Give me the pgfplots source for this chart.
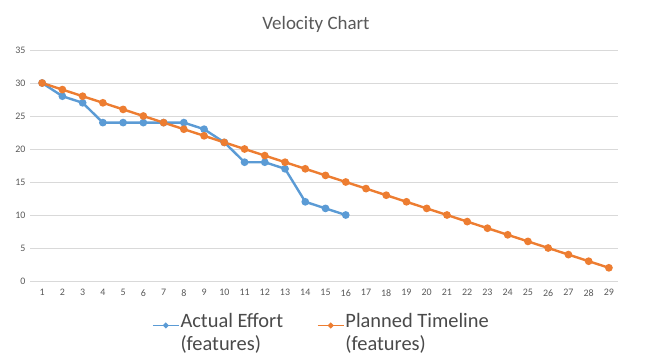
\documentclass[border=0pt]{standalone}
\usepackage{fontspec}
\setmainfont{Carlito}
\usepackage{pgfplots}
\pgfplotsset{compat=1.18}
\definecolor{xlblue}{HTML}{5B9BD5}
\definecolor{xlorange}{HTML}{ED7D31}
\definecolor{xlgrid}{HTML}{D9D9D9}
\definecolor{xltext}{HTML}{595959}
\definecolor{xllegend}{HTML}{4A4A4A}
\begin{document}
\begin{tikzpicture}
\begin{axis}[
  at={(0,0)}, anchor=south west,
  scale only axis, width=588bp, height=231bp,
  xmin=0.4, xmax=29.45, ymin=0, ymax=35,
  xtick={1,...,29}, ytick={0,5,...,35},
  major tick length=0pt,
  axis line style={draw=none},
  ymajorgrids, grid style={xlgrid, line width=0.8bp},
  /pgf/number format/assume math mode=true,
  tick label style={font=\fontsize{10}{11}\selectfont, text=xltext},
  yticklabel style={xshift=-1bp},
  xticklabel style={yshift=-5bp},
  title={Velocity Chart},
  title style={font=\fontsize{19}{21}\selectfont, text=xltext, at={(axis description cs:0.5,1)}, anchor=center, yshift=20bp, xshift=-8bp},
  legend columns=2,
  legend style={draw=none, at={(rel axis cs:0,0)}, anchor=north west, xshift=122bp, yshift=-28bp,
    font=\fontsize{20.5}{23}\selectfont, text=xllegend,
    cells={align=left}, inner xsep=0bp,
    nodes={inner xsep=1bp},
    /tikz/every even column/.append style={column sep=33bp}},
  legend image code/.code={\draw[#1, line width=1.3bp] (0bp,7bp) -- (26bp,7bp); \fill[#1] (13bp,7bp) circle (1.4bp);},
]
\addplot[xlblue, line width=2.4bp, mark=*, mark size=2.6bp] coordinates {
(1,30) (2,28) (3,27) (4,24) (5,24) (6,24) (7,24) (8,24) (9,23) (10,21)
(11,18) (12,18) (13,17) (14,12) (15,11) (16,10)};
\addlegendentry{Actual Effort\\(features)}
\addplot[xlorange, line width=2.4bp, mark=*, mark size=2.6bp] coordinates {
(1,30) (2,29) (3,28) (4,27) (5,26) (6,25) (7,24) (8,23) (9,22) (10,21)
(11,20) (12,19) (13,18) (14,17) (15,16) (16,15) (17,14) (18,13) (19,12) (20,11)
(21,10) (22,9) (23,8) (24,7) (25,6) (26,5) (27,4) (28,3) (29,2)};
\addlegendentry{Planned Timeline\\(features)}
\end{axis}
\pgfresetboundingbox
\path[use as bounding box] (-30bp,-82bp) rectangle (637bp,281bp);
\end{tikzpicture}
\end{document}
